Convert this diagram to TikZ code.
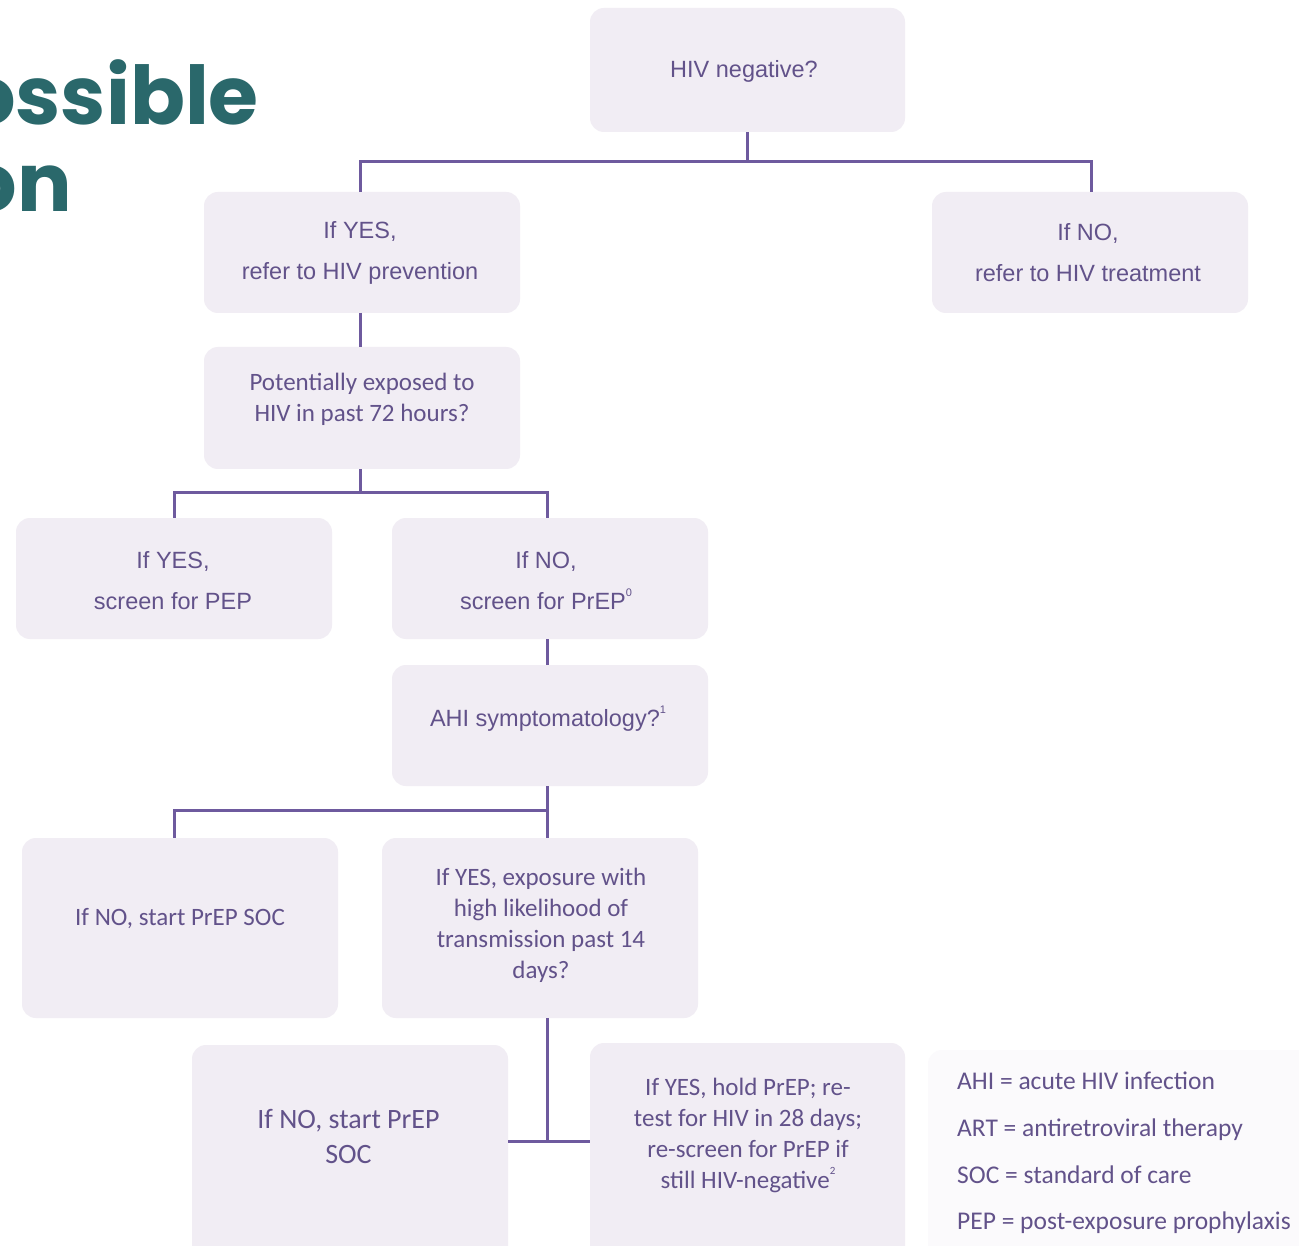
\documentclass[tikz,border=0pt]{standalone}
\usepackage{fontspec}
\setmainfont{Liberation Sans}
\newfontfamily\arialf{Liberation Sans}
\newfontfamily\calf{Carlito}
\newfontfamily\popf{Poppins}
\definecolor{boxfill}{RGB}{241,237,244}
\definecolor{legfill}{RGB}{251,250,252}
\definecolor{txtc}{RGB}{98,82,138}
\definecolor{linec}{RGB}{110,90,158}
\definecolor{teal}{RGB}{42,104,107}
\newcommand{\mysup}[1]{\raisebox{0.55em}{\fontsize{11}{11}\selectfont #1}}
\begin{document}
\begin{tikzpicture}[x=1pt,y=-1pt,
  box/.style={fill=boxfill, rounded corners=14pt, inner sep=0pt, minimum width=316pt},
  conn/.style={draw=linec, line width=3pt},
  tA/.style={text=txtc, font=\arialf\fontsize{23.5}{41}\selectfont, align=center, inner sep=0pt},
  tC/.style={text=txtc, font=\calf\fontsize{25}{31}\selectfont, align=center, inner sep=0pt},
  tCbig/.style={text=txtc, font=\calf\fontsize{28}{35}\selectfont, align=center, inner sep=0pt},
  leg/.style={text=txtc, font=\calf\fontsize{25.5}{30}\selectfont, anchor=base west, inner sep=0pt},
  ttl/.style={text=teal, font=\popf\bfseries\fontsize{81}{87}\selectfont, anchor=base east, inner sep=0pt}]
\clip (0,0) rectangle (1299,1246);
\fill[white] (0,0) rectangle (1299,1246);

% title fragment (cut at the left edge, as in the reference)
\node[ttl] (title1) at (259,125) {ossible};
\node[ttl] (title2) at (72,212) {on};

% boxes
\node[box, minimum width=315pt, minimum height=124pt] (n1) at (747.5,70) {};
\node[box, minimum height=121pt] (n2) at (362,252.5) {};
\node[box, minimum height=121pt] (n3) at (1090,252.5) {};
\node[box, minimum height=122pt] (n4) at (362,408) {};
\node[box, minimum height=121pt] (n5) at (174,578.5) {};
\node[box, minimum height=121pt] (n6) at (550,578.5) {};
\node[box, minimum height=121pt] (n7) at (550,725.5) {};
\node[box, minimum height=180pt] (n8) at (180,928) {};
\node[box, minimum height=180pt] (n9) at (540,928) {};
\node[box, minimum height=220pt] (n10) at (350,1155) {};
\node[box, minimum width=315pt, minimum height=222pt] (n11) at (747.5,1154) {};
\node[fill=legfill, rounded corners=14pt, inner sep=0pt, minimum width=390pt, minimum height=215pt] (legbox) at (1123,1157.5) {};

% texts
\node[tA] (t1) at (744,71) {HIV negative?};
\node[tA] (t2) at (360,253) {If YES,\\refer to HIV prevention};
\node[tA] (t3) at (1088,253) {If NO,\\refer to HIV treatment};
\node[tC] (t4) at (362,399) {Potentially exposed to\\HIV in past 72 hours?};
\node[tA] (t5) at (173,581) {If YES,\\screen for PEP};
\node[tA] (t6) at (546,581) {If NO,\\screen for PrEP\mysup{0}};
\node[tA] (t7) at (548,719) {AHI symptomatology?\mysup{1}};
\node[tC] (t8) at (180,919) {If NO, start PrEP SOC};
\node[tC] (t9) at (541,925) {If YES, exposure with\\high likelihood of\\transmission past 14\\days?};
\node[tCbig] (t10) at (348.5,1136) {If NO, start PrEP\\SOC};
\node[tC] (t11) at (748,1135) {If YES, hold PrEP; re-\\test for HIV in 28 days;\\re-screen for PrEP if\\still HIV-negative\mysup{2}};

% legend
\node[leg] (l1) at (957,1089) {AHI = acute HIV infection};
\node[leg] (l2) at (957,1136) {ART = antiretroviral therapy};
\node[leg] (l3) at (957,1183) {SOC = standard of care};
\node[leg] (l4) at (957,1229) {PEP = post-exposure prophylaxis};

% connectors
\coordinate (j1) at (747,162);
\draw[conn] (n1.south -| j1) -- (j1);
\draw[conn] (360,192) |- (j1) -| (1091,192);
\draw[conn] (360,313) -- (360,347);
\coordinate (j2) at (360,492);
\draw[conn] (n4.south -| j2) -- (j2);
\draw[conn] (n5.north) |- (j2) -| (547,518);
\draw[conn] (547,639) -- (547,665);
\coordinate (j3) at (547,810);
\draw[conn] (n7.south -| j3) -- (j3);
\draw[conn] (n5 |- n8.north) |- (j3) -- (j3 |- n9.north);
\coordinate (j4) at (547,1141);
\draw[conn] (j4 |- n9.south) -- (j4);
\draw[conn] (n10.east |- j4) -- (n11.west |- j4);
\end{tikzpicture}
\end{document}
